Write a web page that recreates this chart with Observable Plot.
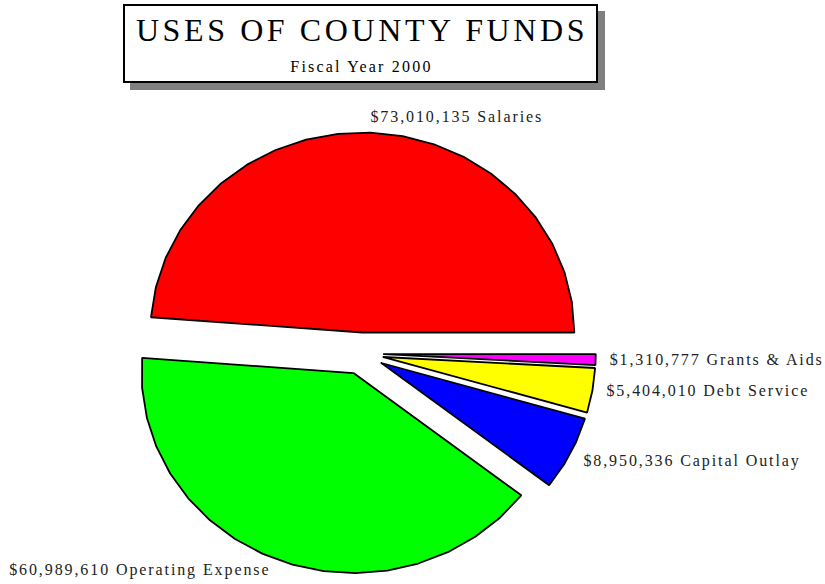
<!DOCTYPE html>
<html>
<head>
<meta charset="utf-8">
<script src="https://cdn.jsdelivr.net/npm/d3@7"></script>
<script src="https://cdn.jsdelivr.net/npm/@observablehq/plot@0.6"></script>
<style>
  html, body { margin: 0; padding: 0; background: #fff; }
  #hdr { position: relative; width: 825px; height: 90px; }
  #box { position: absolute; left: 123px; top: 4px; width: 475px; height: 79px; box-sizing: border-box;
         border: 2px solid #000; box-shadow: 7px 7px 0 #808080; background: #fff;
         font-family: "Liberation Serif", "Times New Roman", serif; color: #000; }
  #t1 { position: absolute; left: 0; right: 0; top: 7.5px; text-align: center; font-size: 32px; line-height: 32px;
        letter-spacing: 3.6px; padding-left: 3px; white-space: nowrap; }
  #t2 { position: absolute; left: 0; right: 0; top: 53px; text-align: center; font-size: 16px; line-height: 16px;
        letter-spacing: 2.2px; padding-left: 2px; white-space: nowrap; }
  #chart svg text { letter-spacing: 1.9px; }
</style>
</head>
<body>
<div id="hdr"><div id="box"><div id="t1">USES OF COUNTY FUNDS</div><div id="t2">Fiscal Year 2000</div></div></div>
<div id="chart"></div>
<script>
const categories = ["Salaries", "Operating Expense", "Capital Outlay", "Debt Service", "Grants & Aids"];
const amounts = [73010135, 60989610, 8950336, 5404010, 1310777];
const colors = ["#ff0000", "#00ff00", "#0000ff", "#ffff00", "#ff00ff"];

const total = d3.sum(amounts);
let acc = 0;
const slices = categories.map((name, i) => {
  const a0 = acc / total * 2 * Math.PI;
  acc += amounts[i];
  const a1 = acc / total * 2 * Math.PI;
  return {name, value: amounts[i], a0, a1, mid: (a0 + a1) / 2};
});

const EXPLODE = 0.105;
const STEP = 9 * Math.PI / 180;
const points = slices.flatMap(s => {
  const ox = EXPLODE * Math.cos(s.mid), oy = EXPLODE * Math.sin(s.mid);
  const n = Math.max(1, Math.ceil((s.a1 - s.a0) / STEP));
  const pts = [{name: s.name, x: ox, y: oy}];
  for (let k = 0; k <= n; k++) {
    const a = s.a0 + (s.a1 - s.a0) * k / n;
    pts.push({name: s.name, x: ox + Math.cos(a), y: oy + Math.sin(a)});
  }
  pts.push({name: s.name, x: ox, y: oy});
  return pts;
});

const labelText = d => "$" + d3.format(",")(d.value) + " " + d.name;
const lx = d => (1 + EXPLODE) * Math.cos(d.mid);
const ly = d => (1 + EXPLODE) * Math.sin(d.mid);
const textOpts = {x: lx, y: ly, text: labelText, fontSize: 16, fontFamily: "Liberation Serif", fill: "#222"};

const W = 825, H = 494, CX = 361, CY = 263, RX = 212, RY = 200;

const chart = Plot.plot({
  width: W,
  height: H,
  margin: 0,
  x: {domain: [-CX / RX, (W - CX) / RX], axis: null},
  y: {domain: [(CY - H) / RY, CY / RY], axis: null},
  color: {domain: categories, range: colors},
  marks: [
    Plot.line(points, {x: "x", y: "y", z: "name", fill: "name", stroke: "black", strokeWidth: 1.8, strokeLinejoin: "miter"}),
    Plot.text(slices.filter(d => d.name === "Salaries"), {...textOpts, textAnchor: "start", dy: -16}),
    Plot.text(slices.filter(d => d.name === "Operating Expense"), {...textOpts, textAnchor: "end", dx: -7, dy: 10}),
    Plot.text(slices.filter(d => d.name === "Capital Outlay"), {...textOpts, textAnchor: "start", dx: 13, dy: 7}),
    Plot.text(slices.filter(d => d.name === "Debt Service" || d.name === "Grants & Aids"), {...textOpts, textAnchor: "start", dx: 14, dy: 0})
  ]
});
document.getElementById("chart").appendChild(chart);
</script>
</body>
</html>
